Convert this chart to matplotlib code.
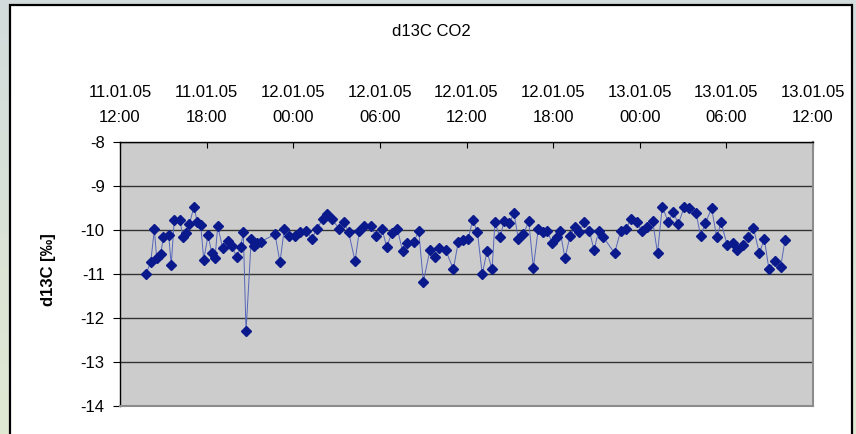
import matplotlib.pyplot as plt
import matplotlib.dates as mdates
from matplotlib.colors import LinearSegmentedColormap
from matplotlib.patches import Rectangle
import numpy as np
import pandas as pd

plt.rcParams['font.family'] = ['Liberation Sans', 'DejaVu Sans']
plt.rcParams['axes.unicode_minus'] = False

## Measurement series: hours after 11.01.05 12:00 and d13C of CO2 [permil]
start = pd.Timestamp("2005-01-11 12:00")
hours = [1.80, 2.13, 2.38, 2.54, 2.82, 3.00, 3.37, 3.55, 3.76, 4.16,
         4.34, 4.57, 4.80, 5.13, 5.35, 5.59, 5.80, 6.10, 6.35, 6.58,
         6.77, 7.11, 7.50, 7.74, 8.08, 8.36, 8.54, 8.73, 9.09, 9.30,
         9.51, 9.75, 10.74, 11.08, 11.38, 11.73, 12.12, 12.47, 12.90, 13.30,
         13.62, 14.04, 14.36, 14.68, 15.19, 15.52, 15.84, 16.28, 16.58, 16.90,
         17.36, 17.73, 18.15, 18.47, 18.82, 19.21, 19.58, 19.90, 20.36, 20.69,
         21.01, 21.47, 21.80, 22.12, 22.56, 23.09, 23.43, 23.78, 24.12, 24.43,
         24.76, 25.09, 25.42, 25.77, 25.97, 26.32, 26.62, 26.96, 27.29, 27.59,
         27.93, 28.31, 28.63, 28.97, 29.28, 29.60, 29.94, 30.25, 30.48, 30.82,
         31.17, 31.52, 31.81, 32.16, 32.51, 32.83, 33.16, 33.48, 34.26, 34.68,
         35.05, 35.37, 35.79, 36.14, 36.48, 36.90, 37.23, 37.56, 37.98, 38.32,
         38.67, 39.09, 39.43, 39.90, 40.22, 40.54, 40.98, 41.33, 41.63, 42.06,
         42.44, 42.76, 43.17, 43.52, 43.87, 44.28, 44.63, 44.95, 45.37, 45.76,
         46.06]
d13c = [-11.01, -10.73, -9.99, -10.65, -10.55, -10.17, -10.12, -10.79, -9.77, -9.77,
        -10.17, -10.08, -9.87, -9.47, -9.83, -9.89, -10.68, -10.12, -10.52, -10.65,
        -9.91, -10.42, -10.25, -10.36, -10.62, -10.39, -10.06, -12.31, -10.21, -10.36,
        -10.31, -10.27, -10.10, -10.74, -9.98, -10.14, -10.14, -10.06, -10.02, -10.21,
        -9.98, -9.76, -9.64, -9.76, -9.98, -9.83, -10.06, -10.71, -10.02, -9.91,
        -9.91, -10.14, -9.98, -10.39, -10.08, -9.98, -10.49, -10.31, -10.27, -10.02,
        -11.18, -10.46, -10.61, -10.42, -10.46, -10.90, -10.27, -10.24, -10.21, -9.77,
        -10.06, -11.01, -10.49, -10.90, -9.83, -10.17, -9.79, -9.85, -9.62, -10.21,
        -10.10, -9.81, -10.86, -9.98, -10.06, -10.02, -10.31, -10.17, -10.02, -10.65,
        -10.14, -9.93, -10.06, -9.83, -10.02, -10.46, -10.02, -10.17, -10.53, -10.02,
        -9.98, -9.76, -9.83, -10.02, -9.93, -9.81, -10.53, -9.47, -9.83, -9.59,
        -9.87, -9.47, -9.51, -9.62, -10.14, -9.85, -9.51, -10.17, -9.83, -10.35,
        -10.30, -10.46, -10.35, -10.17, -9.95, -10.53, -10.21, -10.90, -10.71, -10.84,
        -10.24]

times = start + pd.to_timedelta(hours, unit="h")

W, H = 856, 434
fig = plt.figure(figsize=(W / 100, H / 100), dpi=100)

# window background with soft vertical gradient and white chart sheet
bg = fig.add_axes([0, 0, 1, 1], zorder=-2)
grad = np.linspace(0, 1, 256).reshape(-1, 1)
cmap = LinearSegmentedColormap.from_list("bg", ["#d3dcdc", "#e0e9d2"])
bg.imshow(grad, aspect="auto", cmap=cmap, extent=[0, 1, 0, 1])
bg.add_patch(Rectangle((10 / W, -0.01), (852 - 10) / W, 1 - 5 / H + 0.01,
                       facecolor="white", edgecolor="black", lw=1.6,
                       transform=bg.transAxes))
bg.set_xlim(0, 1)
bg.set_ylim(0, 1)
bg.axis("off")

ax = fig.add_axes([120 / W, 1 - 405.5 / H, (813 - 120) / W, (405.5 - 142) / H])
ax.set_facecolor("#cccccc")
ax.plot(times, d13c, color="#5566bb", lw=0.7, marker="D", ms=4.6,
        mfc="#0a1a8c", mec="#0a1a8c", zorder=3)

ax.set_ylim(-14, -8)
ax.set_yticks(range(-14, -7))
ax.grid(axis="y", color="#333333", lw=1, zorder=1)
ax.set_axisbelow(True)

ax.set_xlim(start, start + pd.Timedelta(hours=48))
ax.xaxis.set_major_locator(mdates.HourLocator(byhour=[0, 6, 12, 18]))
ax.xaxis.set_major_formatter(mdates.DateFormatter("%d.%m.%y\n%H:%M"))
ax.xaxis.tick_top()
ax.tick_params(axis="x", direction="in", length=4, pad=12.5, labelsize=12)
ax.tick_params(axis="y", direction="out", length=5, pad=6, labelsize=12)
for lbl in ax.get_xticklabels():
    lbl.set_linespacing(1.8)

for side in ["left", "top"]:
    ax.spines[side].set_color("black")
    ax.spines[side].set_linewidth(1)
for side in ["right", "bottom"]:
    ax.spines[side].set_color("#8c8c8c")
    ax.spines[side].set_linewidth(1.5)

fig.text(431 / W, 1 - 32 / H, "d13C CO2", fontsize=12, ha="center", va="center")
fig.text(48 / W, 1 - 270 / H, "d13C [‰]", fontsize=12, fontweight="bold",
         rotation=90, ha="center", va="center")

fig.savefig("out.png", dpi=100)
